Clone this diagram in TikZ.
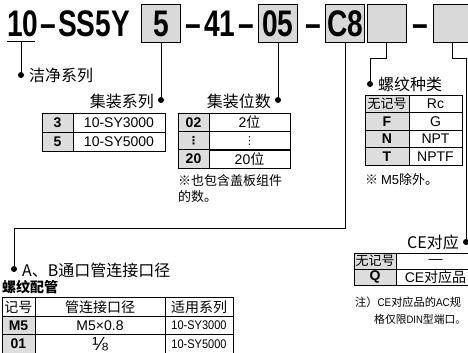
\documentclass[tikz,border=0pt]{standalone}
\usepackage{fontspec}
\usepackage{xcolor}
\setmainfont{Liberation Sans}
\newfontfamily\cjk{Noto Sans CJK SC}
\newfontfamily\symsans{DejaVu Sans}
\newfontfamily\condsans[FakeStretch=0.76]{Liberation Sans}
\newfontfamily\narrowsans[FakeStretch=0.88]{Liberation Sans}
\newcommand{\zhs}[1]{{\cjk #1}}
\newcommand{\lat}[1]{{\narrowsans #1}}
\newcommand{\vdotsm}{{\symsans\fontsize{11}{11}\selectfont ⋮}}
\definecolor{boxgray}{RGB}{217,217,217}
\definecolor{cellgray}{RGB}{221,221,221}
\usetikzlibrary{positioning}

\tikzset{
  code/.style={font=\condsans\bfseries\fontsize{37}{37}\selectfont, inner sep=0pt},
  codebox/.style={draw, fill=boxgray, line width=1pt, minimum width=39pt, minimum height=38pt, inner sep=0pt, code},
  lead/.style={line width=1pt},
  tdot/.style={circle, fill=black, inner sep=0pt, minimum size=6pt},
  lab/.style={font=\cjk\fontsize{16}{16}\selectfont, inner sep=0pt},
  note/.style={font=\cjk\fontsize{13}{13}\selectfont, inner sep=0pt},
  cell/.style={draw, line width=0.7pt, inner sep=0pt, font=\fontsize{14}{14}\selectfont},
  gcell/.style={cell, fill=cellgray}
}

\begin{document}
\begin{tikzpicture}[x=1pt, y=-1pt]
\useasboundingbox (0,0) rectangle (468,353);

% === Codigo ===
\node[code, anchor=base west] (t10) at (7,37) {10};
\node[code, anchor=base west] (d1) at (40,37) {–};
\node[code, anchor=base west] (tss) at (58,37) {SS5Y};
\node[codebox] (b5) at (161,24) {5};
\node[code, anchor=base west] (d2) at (185,37) {–};
\node[code, anchor=base west] (t41) at (204,37) {41};
\node[code, anchor=base west] (d3) at (238,37) {–};
\node[codebox] (b05) at (278,24) {05};
\node[code, anchor=base west] (d4) at (305,37) {–};
\node[codebox] (bc8) at (345,24) {C8};
\node[codebox] (be) at (386.5,24) {};
\node[code, anchor=base west] (d5) at (412,37) {–};
\node[codebox] (bl) at (452.5,24) {};

% subrayado de 10
\coordinate (u1) at (7,42);
\coordinate (u2) at (35,42);
\coordinate (u0) at (21,42);
\draw[lead] (u1) -- (u2);

% === Puntos y rotulos ===
\node[tdot] (p1) at (21,75) {};
\node[lab, anchor=west] (l1) at (29,75) {洁净系列};
\draw[lead] (u0) -- (p1);

\node[tdot] (p2) at (161,100) {};
\node[lab, anchor=east] (l2) at (154,101) {集装系列};
\draw[lead] (b5.south) -- (p2);

\node[tdot] (p3) at (278,100) {};
\node[lab, anchor=east] (l3) at (271,101) {集装位数};
\draw[lead] (b05.south) -- (p3);

\node[tdot] (p4) at (14,269) {};
\node[lab, anchor=west] (l4) at (22,270) {A\zhs{、}B通口管连接口径};
\coordinate (k4) at (14,228);
\draw[lead] (bc8.south) |- (k4) -- (p4);

\node[tdot] (p5) at (370,84) {};
\node[lab, anchor=west] (l5) at (378,84) {螺纹种类};
\draw[lead] (be.south) -- ++(0,15) -| (p5);

\node[tdot] (p6) at (466,242) {};
\node[lab, anchor=east] (l6) at (459,242) {CE\zhs{对应}};
\draw[lead] (bl.south) -- ++(0,15) -| (p6);

% === Tabla serie ===
\foreach \k/\v [count=\i] in {3/10-SY3000, 5/10-SY5000}{
  \node[gcell, minimum width=31pt, minimum height=19pt] (sk\i) at (57.5,{103.5+19*\i}) {\bfseries\k};
  \node[cell, minimum width=92pt, minimum height=19pt] (sv\i) at (119,{103.5+19*\i}) {\v};
}

% === Tabla numero de estaciones ===
\foreach \k/\v [count=\i] in {02/2\zhs{位}, \vdotsm/\vdotsm, 20/20\zhs{位}}{
  \node[gcell, minimum width=31pt, minimum height=18.4pt] (nk\i) at (193.5,{104+18.33*\i}) {\bfseries\k};
  \node[cell, minimum width=81pt, minimum height=18.4pt] (nv\i) at (249.5,{104+18.33*\i}) {\v};
}
\node[note, anchor=west] (n1) at (178,181) {※也包含盖板组件};
\node[note, anchor=west] (n2) at (178,197) {的数。};

% === Tabla rosca ===
\node[gcell, minimum width=44pt, minimum height=17.5pt, font=\cjk\fontsize{13}{13}\selectfont] (rk0) at (387,103.75) {无记号};
\node[cell, minimum width=53pt, minimum height=17.5pt] (rv0) at (435.5,103.75) {Rc};
\foreach \k/\v [count=\i] in {F/G, N/NPT, T/NPTF}{
  \node[gcell, minimum width=44pt, minimum height=17.5pt] (rk\i) at (387,{103.75+17.5*\i}) {\bfseries\k};
  \node[cell, minimum width=53pt, minimum height=17.5pt] (rv\i) at (435.5,{103.75+17.5*\i}) {\v};
}
\node[note, anchor=west] (n3) at (365,180) {※ \textrm{M5}除外。};

% === Tabla CE ===
\node[gcell, minimum width=42pt, minimum height=16pt, font=\cjk\fontsize{13}{13}\selectfont] (ck1) at (375,261) {无记号};
\node[cell, minimum width=79pt, minimum height=16pt] (cv1) at (435.5,261) {—};
\node[gcell, minimum width=42pt, minimum height=16pt] (ck2) at (375,277) {\bfseries Q};
\node[cell, minimum width=79pt, minimum height=16pt] (cv2) at (435.5,277) {CE\zhs{对应品}};
\node[note, font=\cjk\fontsize{11.2}{11.2}\selectfont, anchor=west] (n4) at (355,302) {注）\lat{CE}对应品的\lat{AC}规};
\node[note, font=\cjk\fontsize{10.8}{10.8}\selectfont, anchor=west] (n5) at (374,319) {格仅限\lat{DIN}型端口。};

% === Tabla conexiones ===
\node[font=\cjk\bfseries\fontsize{14}{14}\selectfont, inner sep=0pt, anchor=west] (l7) at (2,287) {螺纹配管};
\node[cell, minimum width=33pt, minimum height=18.4pt, font=\cjk\fontsize{14}{14}\selectfont] (ak0) at (18.5,307) {记号};
\node[cell, minimum width=130pt, minimum height=18.4pt, font=\cjk\fontsize{14}{14}\selectfont] (am0) at (100,307) {管连接口径};
\node[cell, minimum width=68pt, minimum height=18.4pt, font=\cjk\fontsize{14}{14}\selectfont] (av0) at (199,307) {适用系列};
\foreach \k/\m/\v [count=\i] in {M5/M5×0.8/10-SY3000, 01/{\fontsize{19}{19}\selectfont ⅛}/10-SY5000}{
  \node[gcell, minimum width=33pt, minimum height=18.4pt] (ak\i) at (18.5,{307+18.4*\i}) {\bfseries\k};
  \node[cell, minimum width=130pt, minimum height=18.4pt] (am\i) at (100,{307+18.4*\i}) {\m};
  \node[cell, minimum width=68pt, minimum height=18.4pt, font=\narrowsans\fontsize{12.5}{12.5}\selectfont] (av\i) at (199,{307+18.4*\i}) {\v};
}

\end{tikzpicture}
\end{document}
